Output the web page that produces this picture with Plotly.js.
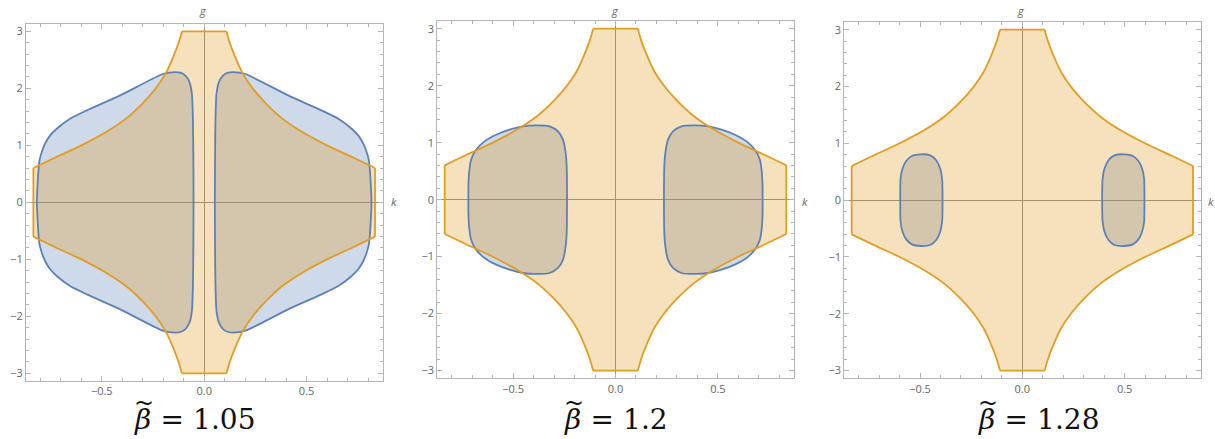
<!DOCTYPE html>
<html>
<head>
<meta charset="utf-8">
<script src="https://cdn.plot.ly/plotly-3.0.1.min.js"></script>
<style>html,body{margin:0;padding:0;background:#fff;}#chart{width:1215px;height:439px;}</style>
</head>
<body>
<div id="chart"></div>
<script>
// ---------- DATA ----------
// Orange region boundary, upper-left quarter (from top flat corner down to left vertex)
const orangeK = [-0.109, -0.125, -0.149, -0.190, -0.239, -0.304, -0.385, -0.483, -0.597, -0.727, -0.834];
const orangeG = [3.0, 2.80, 2.57, 2.25, 1.99, 1.725, 1.46, 1.225, 1.005, 0.787, 0.602];

// Blue region (left blob, upper half: inner edge g=0 -> top -> outer edge g=0)
const blue1K = [-0.052, -0.053, -0.055, -0.060, -0.072, -0.093, -0.117, -0.1417, -0.1987, -0.41, -0.573, -0.655, -0.720, -0.752, -0.777, -0.793, -0.804, -0.809, -0.814, -0.817];
const blue1G = [0, 0.8, 1.44, 1.906, 2.111, 2.228, 2.275, 2.287, 2.257, 1.877, 1.614, 1.468, 1.292, 1.175, 1.029, 0.883, 0.737, 0.561, 0.269, 0];

const blue2K = [-0.2367, -0.2384, -0.2433, -0.2563, -0.2808, -0.3216, -0.3868, -0.4521, -0.5174, -0.5826, -0.6397, -0.6805, -0.705, -0.7148, -0.7181, -0.7181];
const blue2G = [0, 0.585, 0.819, 1.053, 1.199, 1.287, 1.304, 1.287, 1.228, 1.140, 1.023, 0.877, 0.702, 0.468, 0.234, 0];

const blue3K = [-0.390, -0.3917, -0.4015, -0.421, -0.450, -0.4958, -0.5397, -0.5673, -0.5852, -0.595, -0.5966];
const blue3G = [0, 0.351, 0.556, 0.702, 0.789, 0.807, 0.778, 0.690, 0.556, 0.380, 0];

const betaLabels = ['1.05', '1.2', '1.28'];
const xTickVals = [-0.5, 0, 0.5];
const yTickVals = [-3, -2, -1, 0, 1, 2, 3];

// ---------- GEOMETRY HELPERS (symmetry of the regions) ----------
function orangeQuarters() {
  const UL = orangeK.map((k, i) => [k, orangeG[i]]);
  const LL = UL.slice().reverse().map(p => [p[0], -p[1]]);
  const LR = UL.map(p => [-p[0], -p[1]]);
  const UR = UL.slice().reverse().map(p => [-p[0], p[1]]);
  return [UL, LL, LR, UR];
}
function orangePolygon() {
  const q = orangeQuarters();
  const all = q[0].concat(q[1], q[2], q[3]);
  all.push(all[0]);
  return {x: all.map(p => p[0]), y: all.map(p => p[1])};
}
function orangeCurves() {
  const x = [], y = [];
  orangeQuarters().forEach(seg => { seg.forEach(p => { x.push(p[0]); y.push(p[1]); }); x.push(null); y.push(null); });
  return {x, y};
}
function orangeStraights() {
  const q = orangeQuarters();
  const segs = [[q[3][q[3].length - 1], q[0][0]], [q[0][q[0].length - 1], q[1][0]],
                [q[1][q[1].length - 1], q[2][0]], [q[2][q[2].length - 1], q[3][0]]];
  const x = [], y = [];
  segs.forEach(s => { x.push(s[0][0], s[1][0], null); y.push(s[0][1], s[1][1], null); });
  return {x, y};
}
function blobPolygon(K, G, sign) {
  const up = K.map((k, i) => [k * sign, G[i]]);
  const low = up.slice(1, -1).reverse().map(p => [p[0], -p[1]]);
  const all = up.concat(low);
  all.push(all[0]);
  return {x: all.map(p => p[0]), y: all.map(p => p[1])};
}

// ---------- STYLE / LAYOUT ----------
const W = 1215, H = 439;
const ORANGE = '#E19C24', BLUE = '#5E81B5';
const ORANGE_FILL = 'rgba(225,156,36,0.3)', BLUE_FILL = 'rgba(94,129,181,0.3)';
const panelBox = [
  {x0: 26, x1: 383, y0: 24, y1: 381, lblX: 132, gX: 203, kX: 394},
  {x0: 437.3, x1: 794.3, y0: 21.3, y1: 378.3, lblX: 562, gX: 615, kX: 805},
  {x0: 844.3, x1: 1201, y0: 22.3, y1: 378.3, lblX: 976, gX: 1021, kX: 1211}
];
const blues = [[blue1K, blue1G], [blue2K, blue2G], [blue3K, blue3G]];

const traces = [];
const layout = {
  width: W, height: H,
  margin: {l: 0, r: 0, t: 0, b: 0, autoexpand: false},
  paper_bgcolor: '#fff', plot_bgcolor: '#fff',
  showlegend: false,
  font: {family: 'Open Sans, sans-serif', color: '#666', size: 11},
  annotations: []
};

const frameColor = '#b4b4b4';
panelBox.forEach((pb, i) => {
  const sx = i === 0 ? '' : String(i + 1);
  const xa = 'x' + sx, ya = 'y' + sx;
  const [bk, bg] = blues[i];
  const op = orangePolygon();
  const oc = orangeCurves();
  const os = orangeStraights();
  const bl = blobPolygon(bk, bg, 1);
  const br = blobPolygon(bk, bg, -1);
  // fills: blue first, orange above
  [bl, br].forEach(b => traces.push({type: 'scatter', mode: 'lines', x: b.x, y: b.y, xaxis: xa, yaxis: ya,
    fill: 'toself', fillcolor: BLUE_FILL, line: {width: 0, shape: 'spline', smoothing: 0.6}, hoverinfo: 'skip'}));
  traces.push({type: 'scatter', mode: 'lines', x: op.x, y: op.y, xaxis: xa, yaxis: ya,
    fill: 'toself', fillcolor: ORANGE_FILL, line: {width: 0}, hoverinfo: 'skip'});
  // boundary lines on top
  [bl, br].forEach(b => traces.push({type: 'scatter', mode: 'lines', x: b.x, y: b.y, xaxis: xa, yaxis: ya,
    line: {color: BLUE, width: 1.8, shape: 'spline', smoothing: 0.6}, hoverinfo: 'skip'}));
  traces.push({type: 'scatter', mode: 'lines', x: oc.x, y: oc.y, xaxis: xa, yaxis: ya, connectgaps: false,
    line: {color: ORANGE, width: 1.8, shape: 'spline', smoothing: 1}, hoverinfo: 'skip'});
  traces.push({type: 'scatter', mode: 'lines', x: os.x, y: os.y, xaxis: xa, yaxis: ya, connectgaps: false,
    line: {color: ORANGE, width: 1.8}, hoverinfo: 'skip'});

  const common = {
    showgrid: false, zeroline: true, zerolinecolor: '#8f8f8f', zerolinewidth: 1,
    showline: true, linecolor: frameColor, linewidth: 1, mirror: 'ticks',
    ticks: 'inside', ticklen: 5, tickcolor: frameColor, tickwidth: 1,
    tickfont: {size: 11, color: '#666'}, fixedrange: true
  };
  layout['xaxis' + sx] = Object.assign({}, common, {
    domain: [pb.x0 / W, pb.x1 / W], anchor: ya, range: [-0.87, 0.873],
    tickvals: xTickVals, tickformat: '.1f',
    minor: {dtick: 0.1, tick0: 0, ticklen: 3, tickcolor: frameColor, ticks: 'inside', showgrid: false}
  });
  layout['yaxis' + sx] = Object.assign({}, common, {
    domain: [1 - pb.y1 / H, 1 - pb.y0 / H], anchor: xa, range: [-3.135, 3.13],
    tickvals: yTickVals,
    minor: {dtick: 0.2, tick0: 0, ticklen: 3, tickcolor: frameColor, ticks: 'inside', showgrid: false}
  });
  // axis labels
  layout.annotations.push({xref: 'paper', yref: 'paper', x: pb.gX / W, y: 1 - 11 / H, text: '<i>g</i>',
    showarrow: false, xanchor: 'center', yanchor: 'middle', font: {size: 11, color: '#666'}});
  layout.annotations.push({xref: 'paper', yref: 'paper', x: pb.kX / W, y: 1 - 201 / H, text: '<i>k</i>',
    showarrow: false, xanchor: 'center', yanchor: 'middle', font: {size: 11, color: '#666'}});
  // bottom caption
  layout.annotations.push({xref: 'paper', yref: 'paper', x: pb.lblX / W, y: 1 - 419 / H,
    text: '<span style="font-family:DejaVu Serif"><i>\u03B2</i>\u2004=\u2004' + betaLabels[i] + '</span>',
    showarrow: false, xanchor: 'left', yanchor: 'middle',
    font: {family: 'DejaVu Serif', size: 28, color: '#111'}});
  // wide tilde accent above beta
  layout.annotations.push({xref: 'paper', yref: 'paper', x: (pb.lblX + 12) / W, y: 1 - 403 / H,
    text: '<span style="font-family:DejaVu Serif">~</span>',
    showarrow: false, xanchor: 'center', yanchor: 'middle',
    font: {family: 'DejaVu Serif', size: 24, color: '#111'}});
});

Plotly.newPlot('chart', traces, layout, {displayModeBar: false, staticPlot: true});
</script>
</body>
</html>
